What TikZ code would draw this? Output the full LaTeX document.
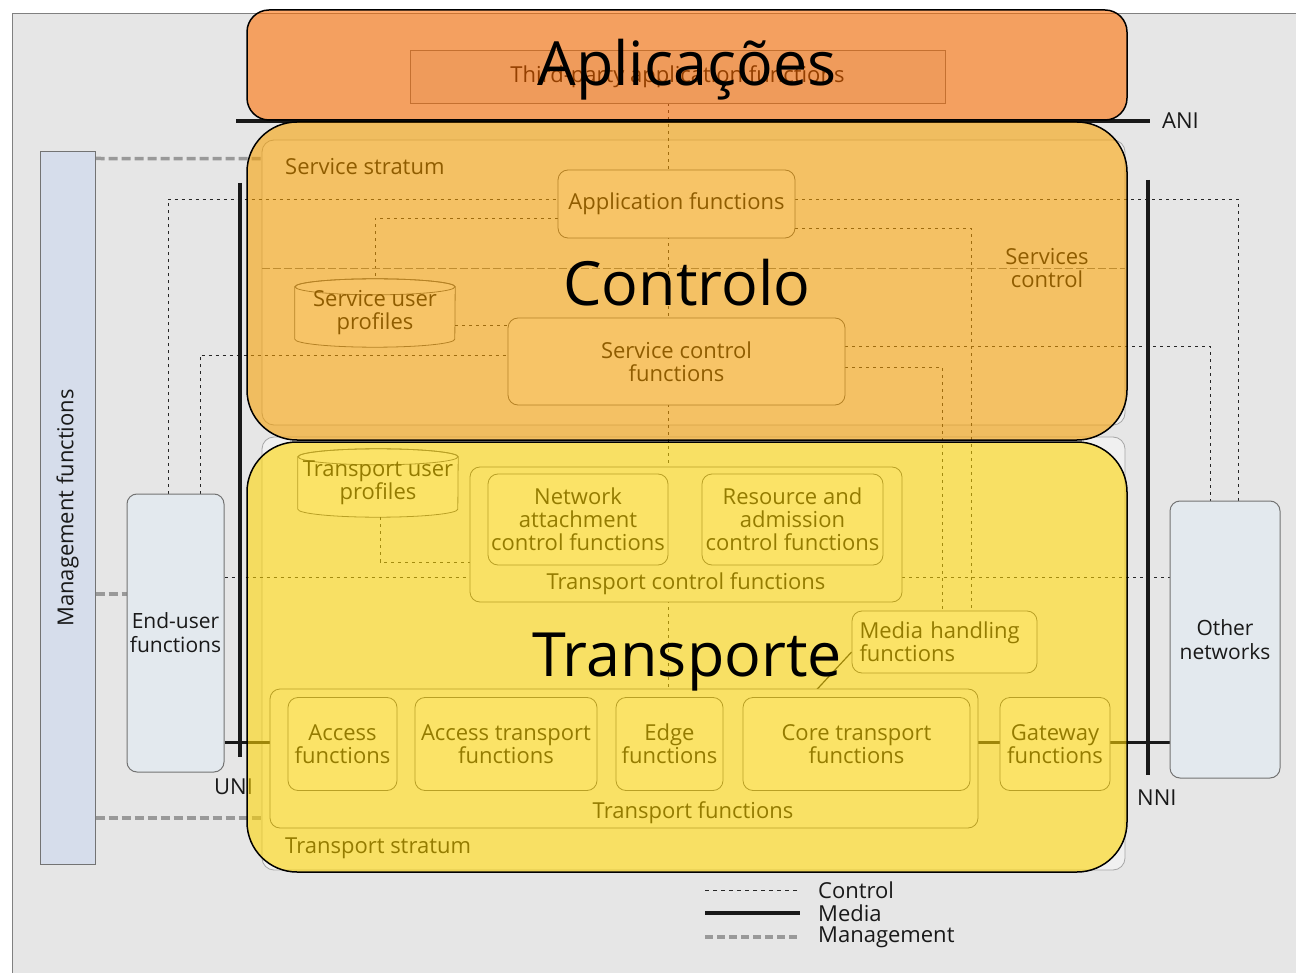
\documentclass[tikz,border=0pt]{standalone}
\usepackage{fontspec}
\setmainfont{Open Sans}
\usetikzlibrary{calc}
\pgfdeclarelayer{back}
\pgfdeclarelayer{lines}
\pgfdeclarelayer{front}
\pgfsetlayers{back,lines,main,front}
\definecolor{bggray}{HTML}{E6E6E6}
\definecolor{mgmtfill}{HTML}{D6DDEB}
\definecolor{sidefill}{HTML}{E3E9EE}
\definecolor{ovorange}{HTML}{FF6E00}
\definecolor{ovamber}{HTML}{F8A000}
\definecolor{ovyellow}{HTML}{FFD500}
\tikzset{
  fbox/.style={draw=black!65, line width=0.8pt, rounded corners=10pt, fill=black!3, text=black, align=center, inner sep=0pt, font=\fontsize{22}{23}\selectfont},
  sidebox/.style={draw=black!55, line width=1pt, rounded corners=10pt, fill=sidefill, text=black!90, align=center, inner sep=0pt, font=\fontsize{21}{24}\selectfont},
  strat/.style={draw=black!35, line width=0.8pt, rounded corners=12pt, fill=black!6, inner sep=0pt},
  ctl/.style={draw=black!85, line width=0.9pt, dash pattern=on 3pt off 4pt},
  media/.style={draw=black!90, line width=3.5pt},
  mgt/.style={draw=black!40, line width=3.5pt, dash pattern=on 9pt off 4pt},
  ov/.style={draw=black, line width=1.5pt, fill opacity=0.58, text opacity=1, inner sep=0pt},
  big/.style={font=\fontsize{61}{63}\selectfont, inner sep=0pt},
  lbl/.style={text=black, font=\fontsize{22}{23}\selectfont, inner sep=0pt, align=center},
  lblk/.style={text=black!90, font=\fontsize{22}{24}\selectfont, inner sep=0pt, align=center},
}
\begin{document}
\begin{tikzpicture}[x=1pt,y=-1pt]
\useasboundingbox (0,0) rectangle (1296,973);
\begin{pgfonlayer}{back}
  \fill[white] (0,0) rectangle (1296,973);
  \draw[fill=bggray, draw=black!50, line width=1pt] (12,14) rectangle (1300,980);
\end{pgfonlayer}

% side boxes
\node[draw=black!55, line width=1pt, fill=mgmtfill, minimum width=55pt, minimum height=712pt, inner sep=0pt] (mgmt) at (67.5,508) {};
\node[rotate=90, lblk] (mgmtlbl) at (mgmt.center) {Management functions};
\node[sidebox, minimum width=97pt, minimum height=278pt] (eu) at (175.5,633) {End-user\\functions};
\node[sidebox, minimum width=110pt, minimum height=277pt] (on) at (1225,639.5) {Other\\networks};

% strata
\begin{pgfonlayer}{back}
  \node[strat, minimum width=863pt, minimum height=285pt] (ss) at (693.5,282.5) {};
  \node[strat, minimum width=863pt, minimum height=433pt] (ts) at (693.5,653.5) {};
\end{pgfonlayer}
\node[lbl, anchor=west] (sslbl) at (285,167) {Service stratum};
\node[lbl, anchor=west] (tslbl) at (285,848) {Transport stratum};

% third party
\node[draw=black!55, line width=0.8pt, fill=black!14, minimum width=535pt, minimum height=53pt, inner sep=0pt, lbl] (tp) at (677.5,76.5) {Third-party application functions};

% service stratum functions
\node[fbox, minimum width=237pt, minimum height=68pt] (appf) at (676.5,204) {Application functions};
\node[fbox, minimum width=337pt, minimum height=87pt] (scf) at (676.5,361.5) {Service control\\functions};
\node[lbl] (sctl) at (1047,268) {Services\\control};

% cylinders
\node[lbl, minimum width=160pt, minimum height=68pt] (sup) at (375,313) {Service user\\profiles};
\node[lbl, minimum width=160pt, minimum height=68pt] (tup) at (378,483) {Transport user\\profiles};
\begin{pgfonlayer}{lines}
  \foreach \c in {sup,tup}{
    \path[fill=black!3, draw=black!65, line width=0.8pt]
      ($(\c.north west)+(0,8)$) -- ($(\c.south west)+(0,-8)$)
      arc[start angle=180, end angle=360, x radius=80pt, y radius=8pt]
      -- ($(\c.north east)+(0,8)$)
      arc[start angle=0, end angle=180, x radius=80pt, y radius=8pt] -- cycle;
    \draw[draw=black!65, line width=0.8pt] ($(\c.north)+(0,8)$) ellipse[x radius=80pt, y radius=8pt];
  }
\end{pgfonlayer}

% transport control
\node[fbox, fill=black!5, minimum width=432pt, minimum height=135pt] (tcf) at (686,534.5) {};
\node[lbl] (tcflbl) at (686,584) {Transport control functions};
\node[fbox, minimum width=180pt, minimum height=91pt] (nacf) at (578,519.5) {Network\\attachment\\control functions};
\node[fbox, minimum width=181pt, minimum height=91pt] (racf) at (792.5,519.5) {Resource and\\admission\\control functions};
\node[fbox, minimum width=185pt, minimum height=62pt, align=left, text width=170pt] (mhf) at (944.5,642) {Media handling\\functions};

% transport functions
\node[fbox, fill=black!5, minimum width=708pt, minimum height=139pt] (tf) at (624,758.5) {};
\node[lbl] (tflbl) at (693,813) {Transport functions};
\node[fbox, minimum width=109pt, minimum height=93pt] (af) at (342.5,744) {Access\\functions};
\node[fbox, minimum width=182pt, minimum height=93pt] (atf) at (506,744) {Access transport\\functions};
\node[fbox, minimum width=107pt, minimum height=93pt] (ef) at (669.5,744) {Edge\\functions};
\node[fbox, minimum width=227pt, minimum height=93pt] (ctf) at (856.5,744) {Core transport\\functions};
\node[fbox, minimum width=110pt, minimum height=93pt] (gwf) at (1055,744) {Gateway\\functions};

% interface labels
\node[lblk, anchor=west] (unil) at (214,787) {UNI};
\node[lblk, anchor=west] (nnil) at (1137,798) {NNI};
\node[lblk, anchor=west] (anil) at (1162,121) {ANI};

\coordinate (uniT) at (240,183);
\coordinate (uniB) at (240,757);
\coordinate (nniT) at (1148,180);
\coordinate (nniB) at (1148,775);
\coordinate (aniL) at (236,121);
\coordinate (aniR) at (1150,121);

\begin{pgfonlayer}{lines}
  % control
  \draw[ctl] ($(eu.north)+(-7.5,0)$) |- ($(appf.west)+(0,-5)$);
  \draw[ctl] ($(eu.north)+(24.5,0)$) |- ($(scf.west)+(0,-6.5)$);
  \draw[ctl] ($(sup.east)+(0,12)$) -- ($(scf.west)+(0,-36.5)$);
  \draw[ctl] ($(appf.west)+(0,14)$) -| (sup.north);
  \coordinate (cv) at ($(tp.south)+(-9.5,0)$);
  \draw[ctl] (cv) -- (cv |- tf.north);
  \draw[ctl] ($(appf.east)+(0,-5)$) -| ($(on.north)+(13,0)$);
  \draw[ctl] ($(scf.east)+(0,-15.5)$) -| ($(on.north)+(-15,0)$);
  \draw[ctl] ($(appf.east)+(0,24)$) -| ($(mhf.north)+(26.5,0)$);
  \draw[ctl] ($(scf.east)+(0,5.5)$) -| ($(mhf.north)+(-2.5,0)$);
  \draw[ctl] ($(eu.east)+(0,-56)$) -- ($(tcf.west)+(0,42.5)$);
  \draw[ctl] ($(tcf.east)+(0,42.5)$) -- ($(on.west)+(0,-62.5)$);
  \draw[ctl] ($(tup.south)+(2,0)$) |- ($(tcf.west)+(0,27.5)$);
  \draw[ctl] (nacf.east) -- (racf.west);
  \draw[draw=black!55, line width=0.8pt, dash pattern=on 8pt off 3pt] (ss.west |- sctl.center) -- (ss.east |- sctl.center);
  % management
  \draw[mgt] ($(mgmt.north east)+(0,7)$) -- ($(ss.north west)+(0,19)$);
  \draw[mgt] ($(mgmt.east)+(0,86)$) -- ($(eu.west)+(0,-39)$);
  \draw[mgt] ($(mgmt.east)+(0,310)$) -- ($(ts.west)+(0,164.5)$);
  % media
  \draw[media] (uniT) -- (uniB);
  \draw[media] (nniT) -- (nniB);
  \draw[media] (aniL) -- (aniR);
  \draw[media, line width=3pt] ($(eu.east)+(0,109)$) -- ($(af.west)+(0,-2)$);
  \draw[media, line width=3pt] ($(af.east)+(0,-2)$) -- ($(atf.west)+(0,-2)$);
  \draw[media, line width=3pt] ($(atf.east)+(0,-2)$) -- ($(ef.west)+(0,-2)$);
  \draw[media, line width=3pt] ($(ef.east)+(0,-2)$) -- ($(ctf.west)+(0,-2)$);
  \draw[media, line width=3pt] ($(ctf.east)+(0,-2)$) -- ($(gwf.west)+(0,-2)$);
  \draw[media, line width=3pt] ($(gwf.east)+(0,-2)$) -- ($(on.west)+(0,102.5)$);
  \draw[draw=black!90, line width=1.2pt] ($(ctf.north west)!0.295!(ctf.north east)$) -- ($(mhf.west)+(0,10)$);
\end{pgfonlayer}

% legend
\coordinate (lgA) at (705,890);
\coordinate (lgB) at (800,890);
\coordinate (lgC) at (705,913);
\coordinate (lgD) at (800,913);
\coordinate (lgE) at (705,937);
\coordinate (lgF) at (800,937);
\draw[draw=black!85, line width=1pt, dash pattern=on 4pt off 4pt] (lgA) -- (lgB);
\draw[draw=black!90, line width=4pt] (lgC) -- (lgD);
\draw[draw=black!40, line width=4pt, dash pattern=on 8pt off 4pt] (lgE) -- (lgF);
\node[lblk, anchor=west] (lg1) at (818,890) {Control};
\node[lblk, anchor=west] (lg2) at (818,913) {Media};
\node[lblk, anchor=west] (lg3) at (818,937) {Management};

% overlays
\begin{pgfonlayer}{front}
  \node[ov, fill=ovorange, rounded corners=22pt, minimum width=880pt, minimum height=110pt] (ovA) at (687,65) {};
  \node[ov, fill=ovamber, rounded corners=50pt, minimum width=880pt, minimum height=318pt] (ovC) at (687,281) {};
  \node[ov, fill=ovyellow, rounded corners=50pt, minimum width=880pt, minimum height=430pt] (ovT) at (687,657) {};
  \node[big] (tA) at (687,70) {Aplicações};
  \node[big] (tC) at (687,283) {Controlo};
  \node[big] (tT) at (687,662) {Transporte};
\end{pgfonlayer}
\end{tikzpicture}
\end{document}
